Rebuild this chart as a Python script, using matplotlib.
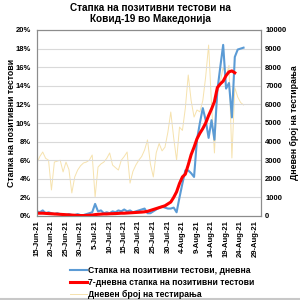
import pandas as pd
import matplotlib
matplotlib.use('Agg')
import matplotlib.pyplot as plt
import matplotlib.dates as mdates
from matplotlib.lines import Line2D

plt.rcParams['font.family'] = ['Liberation Sans', 'DejaVu Sans']
plt.rcParams['font.weight'] = 'bold'

start_date = '2021-06-15'

# daily positive rate (%), 15-Jun .. 25-Aug
daily_rate = [0.5, 0.4, 0.6, 0.3, 0.4, 0.3, 0.2, 0.3, 0.2, 0.2, 0.1, 0.2, 0.1, 0.1, 0.2, 0.1,
              0.1, 0.2, 0.3, 0.4, 1.3, 0.5, 0.6, 0.3, 0.4, 0.3, 0.5, 0.4, 0.6, 0.5, 0.7, 0.5,
              0.6, 0.4, 0.5, 0.6, 0.7, 0.8, 0.3, 0.3, 0.5, 0.7, 0.9, 1.0, 0.9, 0.8, 0.8, 0.9,
              0.4, 2.0, 3.5, 4.9, 4.9, 4.6, 4.2, 8.2, 10.0, 11.6, 10.3, 8.4, 10.3, 8.2, 13.5, 16.0,
              18.4, 13.7, 14.3, 10.6, 17.1, 17.9, 18.0, 18.1]

# 7-day positive rate (%), 15-Jun .. 22-Aug
rolling_rate = [0.3, 0.3, 0.3, 0.28, 0.26, 0.24, 0.22, 0.2, 0.18, 0.16, 0.14, 0.12, 0.1, 0.08, 0.06, 0.05,
                0.05, 0.06, 0.08, 0.1, 0.15, 0.18, 0.2, 0.22, 0.22, 0.24, 0.25, 0.26, 0.28, 0.3, 0.3, 0.32,
                0.34, 0.36, 0.38, 0.4, 0.42, 0.45, 0.5, 0.6, 0.7, 0.8, 0.9, 1.0, 1.1, 1.3, 1.5, 2.0,
                2.6, 3.5, 4.2, 4.5, 5.5, 6.6, 7.4, 8.3, 8.9, 9.4, 10.0, 10.8, 11.5, 12.3, 13.8, 14.2,
                14.5, 15.1, 15.5, 15.6, 15.4]

# daily number of tests
daily_tests = [2850, 3200, 3440, 3100, 3000, 1400, 2900, 2950, 3000, 2370, 2900, 2500, 1240, 2100, 2470, 2700,
               2850, 2900, 3000, 3280, 1020, 2630, 2800, 2900, 3100, 3390, 2740, 2600, 2470, 3000, 3200, 3440,
               1770, 2400, 2740, 3000, 3200, 3550, 4090, 2800, 2100, 3400, 3900, 3500, 3700, 4500, 5590, 4200,
               3000, 4780, 4600, 5800, 7580, 6200, 5320, 5700, 5600, 6200, 7500, 9190, 6000, 3390, 6600, 7200,
               8000, 7500, 8100, 3120, 6900, 6400, 6100, 5970]

tick_dates = pd.date_range('2021-06-15', '2021-08-29', freq='5D')

dates = pd.date_range(start_date, periods=len(daily_rate))
roll_dates = pd.date_range(start_date, periods=len(rolling_rate))
test_dates = pd.date_range(start_date, periods=len(daily_tests))

fig = plt.figure(figsize=(3, 3), dpi=100)
ax = fig.add_axes([0.123, 0.28, 0.747, 0.62])
ax2 = ax.twinx()

# tests drawn behind the rates
ax.set_zorder(ax2.get_zorder() + 1)
ax.patch.set_visible(False)
ax2.set_facecolor('#f2f2f2')

l3, = ax2.plot(test_dates, daily_tests, color='#f6e2ad', linewidth=0.7)
l1, = ax.plot(dates, daily_rate, color='#5b9bd5', linewidth=1.5)
l2, = ax.plot(roll_dates, rolling_rate, color='#ff0000', linewidth=2.2)

ax.set_ylim(0, 20)
ax.set_yticks(range(0, 21, 2))
ax.set_yticklabels([f'{v}%' for v in range(0, 21, 2)])
ax2.set_ylim(0, 10000)
ax2.set_yticks(range(0, 10001, 1000))

ax.set_xlim(pd.Timestamp('2021-06-15'), pd.Timestamp('2021-08-31'))
ax.set_xticks(tick_dates)
ax.xaxis.set_major_formatter(mdates.DateFormatter('%-d-%b-%y'))
ax.tick_params(axis='x', rotation=90, labelsize=5.5, length=0, pad=3)
ax.tick_params(axis='y', labelsize=5.5, length=0, pad=4)
ax2.tick_params(axis='y', labelsize=5.5, length=0, pad=3)

ax.grid(axis='y', color='#d9d9d9', linewidth=0.8)
ax.set_axisbelow(True)
for a in (ax, ax2):
    for s in a.spines.values():
        s.set_color('#8c8c8c')
        s.set_linewidth(0.8)

ax.set_ylabel('Стапка на позитивни тестови', fontsize=6.3, fontweight='bold')
ax2.set_ylabel('Дневен број на тестирања', fontsize=6.3, fontweight='bold')
ax.yaxis.set_label_coords(-0.094, 0.5)
ax2.yaxis.set_label_coords(1.13, 0.5)

fig.text(0.5, 0.955, 'Стапка на позитивни тестови на\nКовид-19 во Македонија',
         ha='center', va='center', fontsize=7.2, fontweight='bold', linespacing=1.1)

fig.legend([l1, l2, l3],
           ['Стапка на позитивни тестови, дневна',
            '7-дневна стапка на позитивни тестови',
            'Дневен број на тестирања'],
           loc='upper left', bbox_to_anchor=(0.233, 0.113), frameon=False,
           fontsize=6.2, handlelength=2.0, handletextpad=0.1, labelspacing=0.35,
           borderpad=0, borderaxespad=0)

# grey strip along the bottom edge
fig.add_artist(Line2D([0, 1], [0.004, 0.004], transform=fig.transFigure,
                      color='#c8c8c8', linewidth=1.5))

fig.savefig('out.png', dpi=100)
